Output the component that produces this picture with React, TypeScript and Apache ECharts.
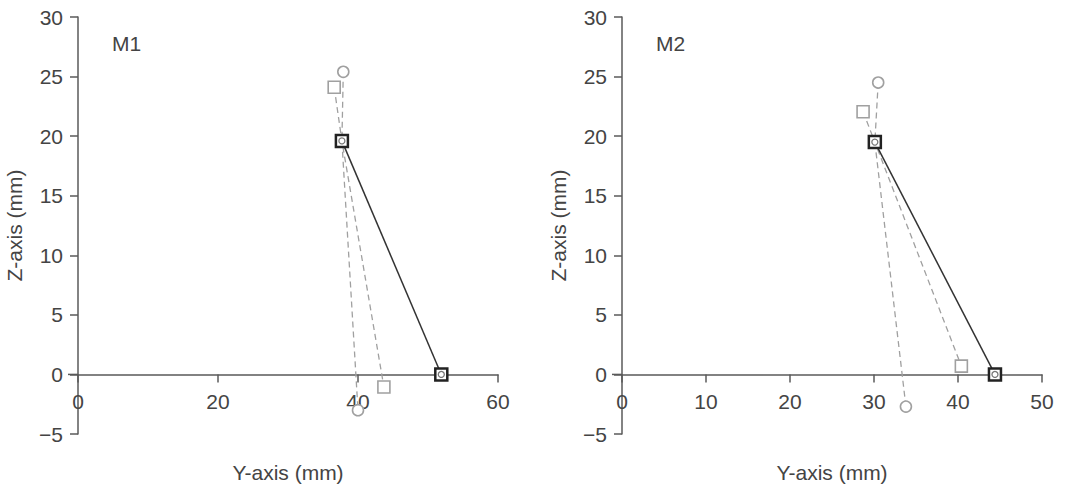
import React, { useEffect, useRef } from "react";
import * as echarts from "echarts";

// M1 panel data [Y-axis (mm), Z-axis (mm)]
const m1Solid = [[37.7, 19.6], [51.9, 0]];
const m1Circle = [[37.9, 25.4], [37.7, 19.6], [40.0, -3.0]];
const m1Square = [[36.6, 24.1], [37.7, 19.6], [43.7, -1.05]];

// M2 panel data
const m2Solid = [[30.1, 19.5], [44.4, 0]];
const m2Circle = [[30.5, 24.5], [30.1, 19.5], [33.8, -2.7]];
const m2Square = [[28.7, 22.05], [30.1, 19.5], [40.4, 0.7]];

const panelTitles = ["M1", "M2"];
const xMax = [60, 50];
const xInterval = [20, 10];
const yMin = -5;
const yMax = 30;
const yInterval = 5;
const xName = "Y-axis (mm)";
const yName = "Z-axis (mm)";

const FONT = "'Liberation Sans', Arial, sans-serif";
const FS = 21;
const TEXT = "#444";
const AXIS = "#5a5a5a";
const GRAY = "#a0a0a0";

export default function App() {
  const ref = useRef<HTMLDivElement>(null);
  useEffect(() => {
    if (!ref.current) return;
    const chart = echarts.init(ref.current, null, { renderer: "svg" });
    const lefts = [78, 622];
    const top = 17;
    const gridH = 417;
    const zeroOffset = -((0 - yMin) / (yMax - yMin)) * gridH;
    const zeroY = top + gridH + zeroOffset;
    const grids = lefts.map((l) => ({
      left: l,
      top,
      width: 420,
      height: gridH,
      outerBoundsMode: "none",
      containLabel: false,
    }));
    const xAxes = [0, 1].map((i) => ({
      type: "value",
      gridIndex: i,
      min: 0,
      max: xMax[i],
      interval: xInterval[i],
      name: xName,
      nameLocation: "middle",
      nameGap: 88,
      offset: zeroOffset,
      nameTextStyle: { fontSize: FS, color: TEXT, fontFamily: FONT },
      axisLine: { onZero: false, lineStyle: { color: AXIS, width: 1.5 } },
      axisTick: { show: true, length: 8, lineStyle: { color: AXIS, width: 1.5 } },
      axisLabel: { fontSize: FS, color: TEXT, fontFamily: FONT, margin: 17 },
      splitLine: { show: false },
    }));
    const yAxes = [0, 1].map((i) => ({
      type: "value",
      gridIndex: i,
      min: yMin,
      max: yMax,
      interval: yInterval,
      name: yName,
      nameLocation: "middle",
      nameGap: 53,
      nameTextStyle: { fontSize: FS, color: TEXT, fontFamily: FONT },
      axisLine: { onZero: false, lineStyle: { color: AXIS, width: 1.5 } },
      axisTick: { show: true, length: 8, lineStyle: { color: AXIS, width: 1.5 } },
      axisLabel: {
        fontSize: FS,
        color: TEXT,
        fontFamily: FONT,
        margin: 15,
        formatter: (v: number) => String(v).replace("-", "\u2212"),
      },
      splitLine: { show: false },
    }));
    const mk = (i: number, solid: number[][], circ: number[][], sq: number[][]) => [
      {
        type: "line",
        xAxisIndex: i,
        yAxisIndex: i,
        data: circ.map((p, k) => (k === 1 ? { value: p, symbol: "none" } : p)),
        symbol: "circle",
        symbolSize: 11,
        lineStyle: { color: GRAY, width: 1.3, type: [6, 4] },
        itemStyle: { color: "#fff", borderColor: GRAY, borderWidth: 1.6 },
        z: 2,
      },
      {
        type: "line",
        xAxisIndex: i,
        yAxisIndex: i,
        data: sq.map((p, k) => (k === 1 ? { value: p, symbol: "none" } : p)),
        symbol: "rect",
        symbolSize: 12,
        lineStyle: { color: GRAY, width: 1.3, type: [6, 4] },
        itemStyle: { color: "#fff", borderColor: GRAY, borderWidth: 1.6 },
        z: 2,
      },
      {
        type: "line",
        xAxisIndex: i,
        yAxisIndex: i,
        data: solid,
        symbol: "rect",
        symbolSize: 12,
        lineStyle: { color: "#333", width: 1.5 },
        itemStyle: { color: "#fff", borderColor: "#222", borderWidth: 2.5 },
        z: 3,
      },
      {
        type: "scatter",
        xAxisIndex: i,
        yAxisIndex: i,
        data: solid,
        symbol: "circle",
        symbolSize: 6,
        itemStyle: { color: "#fff", borderColor: "#555", borderWidth: 1.3 },
        z: 4,
      },
    ];
    chart.setOption({
      animation: false,
      title: panelTitles.map((t, i) => ({
        text: t,
        left: lefts[i] + 29,
        top: 28,
        textStyle: { fontSize: FS, fontWeight: "normal", color: TEXT, fontFamily: FONT },
      })),
      grid: grids,
      xAxis: xAxes,
      yAxis: yAxes,
      graphic: lefts.map((l) => ({
        type: "line",
        shape: { x1: l - 10, y1: zeroY, x2: l, y2: zeroY },
        style: { stroke: AXIS, lineWidth: 1.5 },
        silent: true,
      })),
      series: [...mk(0, m1Solid, m1Circle, m1Square), ...mk(1, m2Solid, m2Circle, m2Square)],
    });
    return () => chart.dispose();
  }, []);
  return (
    <div
      ref={ref}
      style={{ position: "fixed", left: 0, top: 0, width: 1068, height: 489, background: "#fff" }}
    />
  );
}
